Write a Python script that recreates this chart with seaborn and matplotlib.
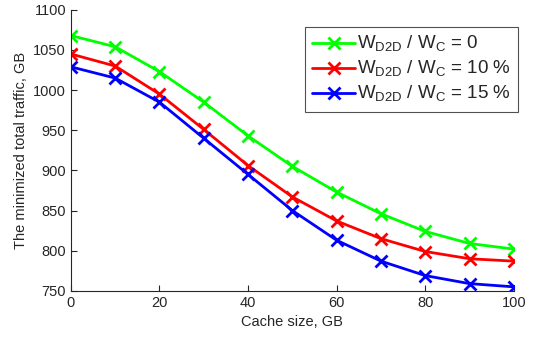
import pandas as pd
import matplotlib
matplotlib.use("Agg")
import matplotlib.pyplot as plt
import seaborn as sns

# Data
cache_size = [0, 10, 20, 30, 40, 50, 60, 70, 80, 90, 100]
traffic_0 = [1068, 1054, 1023, 985, 943, 905, 873, 846, 824, 809, 802]
traffic_10 = [1045, 1030, 995, 951, 906, 867, 837, 815, 799, 790, 787]
traffic_15 = [1029, 1015, 985, 940, 895, 850, 813, 787, 769, 759, 755]

labels = [r'W$_{\mathregular{D2D}}$ / W$_{\mathregular{C}}$ = 0',
          r'W$_{\mathregular{D2D}}$ / W$_{\mathregular{C}}$ = 10 %',
          r'W$_{\mathregular{D2D}}$ / W$_{\mathregular{C}}$ = 15 %']
colors = ['#00ff00', '#ff0000', '#0000ff']

df = pd.DataFrame({
    'Cache size': cache_size * 3,
    'Traffic': traffic_0 + traffic_10 + traffic_15,
    'Series': [labels[0]] * 11 + [labels[1]] * 11 + [labels[2]] * 11,
})

sns.set_style('white')
plt.rcParams['font.family'] = ['Liberation Sans', 'DejaVu Sans']
plt.rcParams['mathtext.fontset'] = 'custom'
plt.rcParams['mathtext.rm'] = 'Liberation Sans'

fig = plt.figure(figsize=(5.37, 3.39), dpi=100)
ax = fig.add_axes([0.132, 0.142, 0.825, 0.829])

sns.lineplot(data=df, x='Cache size', y='Traffic', hue='Series', palette=colors,
             marker='x', markersize=9, markeredgewidth=2, linewidth=2,
             ax=ax, legend=True)

# seaborn gives markers a white edge; make the x markers the line colour
for line in ax.get_lines():
    line.set_markeredgecolor(line.get_color())

ax.set_xlim(0, 100)
ax.set_ylim(750, 1100)
ax.set_xticks(range(0, 101, 20))
ax.set_yticks(range(750, 1101, 50))
ax.set_xlabel('Cache size, GB', fontsize=10.5, color='#262626')
ax.set_ylabel('The minimized total traffic, GB', fontsize=10.5, color='#262626')
ax.tick_params(direction='in', length=4, width=0.8, colors='#262626', labelsize=10.5,
               bottom=True, left=True)

for side in ['top', 'right']:
    ax.spines[side].set_visible(False)
for side in ['left', 'bottom']:
    ax.spines[side].set_color('#262626')
    ax.spines[side].set_linewidth(0.8)

leg = ax.legend(loc='upper right', bbox_to_anchor=(1.01, 0.94), fontsize=13.5,
                frameon=True, fancybox=False, edgecolor='#262626',
                handlelength=2.3, handletextpad=0.1, borderpad=0.4,
                labelspacing=0.25, borderaxespad=0)
leg.get_frame().set_linewidth(0.8)
for h in leg.legend_handles:
    h.set_markeredgecolor(h.get_color())

fig.savefig('out.png', dpi=100)
